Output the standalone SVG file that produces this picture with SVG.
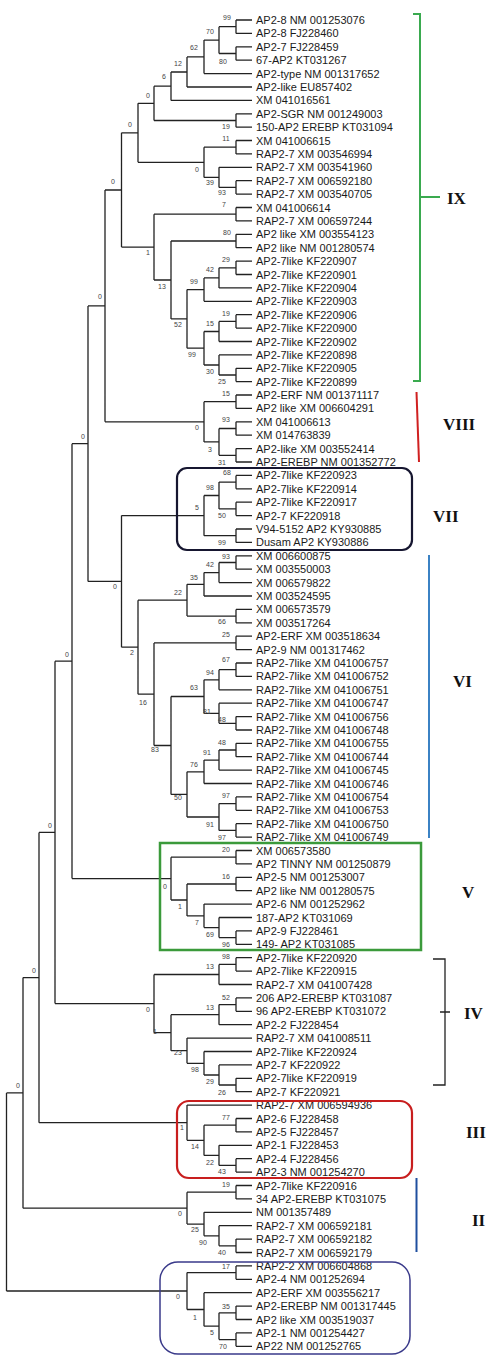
<svg xmlns="http://www.w3.org/2000/svg" width="489" height="1355" viewBox="0 0 489 1355">
<style>
.l{font-family:"Liberation Sans",Arial,sans-serif;font-size:11px;fill:#1a1a1a}
.b{font-family:"Liberation Sans",Arial,sans-serif;font-size:7px;fill:#444;text-anchor:middle}
.r{font-family:"Liberation Serif","Times New Roman",serif;font-size:17px;font-weight:bold;fill:#111}
.t{fill:none;stroke:#222;stroke-width:1.3}
</style>
<rect width="489" height="1355" fill="#fff"/>
<g id="connectors" class="t">
<path d="M236,20V33.4M236,20H252M236,33.4H252M236,46.8V60.2M236,46.8H252M236,60.2H252M219,26.7V53.5M219,26.7H236M219,53.5H236M204,40.1V73.6M204,40.1H219M204,73.6H252M187,56.9V87M187,56.9H204M187,87H252M171,72V100.4M171,72H187M171,100.4H252M236,113.8V127.2M236,113.8H252M236,127.2H252M154,86.2V120.5M154,86.2H171M154,120.5H236M236,140.5V153.9M236,140.5H252M236,153.9H252M236,180.7V194.1M236,180.7H252M236,194.1H252M219,167.3V187.4M219,167.3H252M219,187.4H236M204,147.2V177.4M204,147.2H236M204,177.4H219M138,103.3V162.3M138,103.3H154M138,162.3H204M236,207.5V220.9M236,207.5H252M236,220.9H252M236,234.3V247.7M236,234.3H252M236,247.7H252M236,261.1V274.5M236,261.1H252M236,274.5H252M219,267.8V287.9M219,267.8H236M219,287.9H252M204,277.9V301.3M204,277.9H219M204,301.3H252M236,314.7V328.1M236,314.7H252M236,328.1H252M219,321.4V341.5M219,321.4H236M219,341.5H252M236,368.3V381.6M236,368.3H252M236,381.6H252M219,354.9V375M219,354.9H252M219,375H236M204,331.5V365M204,331.5H219M204,365H219M187,289.6V348.2M187,289.6H204M187,348.2H204M171,241V318.9M171,241H236M171,318.9H187M154,214.2V280M154,214.2H236M154,280H171M121.5,132.8V247.1M121.5,132.8H138M121.5,247.1H154"/>
<path d="M236,395V408.4M236,395H252M236,408.4H252M236,421.8V435.2M236,421.8H252M236,435.2H252M236,448.6V462M236,448.6H252M236,462H252M219,428.5V455.3M219,428.5H236M219,455.3H236M204,401.7V441.9M204,401.7H236M204,441.9H219M105,190V421.8M105,190H121.5M105,421.8H204"/>
<path d="M236,475.4V488.8M236,475.4H252M236,488.8H252M236,502.2V515.6M236,502.2H252M236,515.6H252M219,482.1V508.9M219,482.1H236M219,508.9H236M236,529V542.4M236,529H252M236,542.4H252M204,495.5V535.7M204,495.5H219M204,535.7H236"/>
<path d="M236,555.8V569.2M236,555.8H252M236,569.2H252M219,562.5V582.6M219,562.5H236M219,582.6H252M204,572.6V596M204,572.6H219M204,596H252M236,609.4V622.8M236,609.4H252M236,622.8H252M187,584.3V616.1M187,584.3H204M187,616.1H236M236,636.2V649.6M236,636.2H252M236,649.6H252M236,663V676.4M236,663H252M236,676.4H252M219,669.7V689.8M219,669.7H236M219,689.8H252M236,716.6V730M236,716.6H252M236,730H252M219,703.2V723.3M219,703.2H252M219,723.3H236M204,679.8V713.3M204,679.8H219M204,713.3H219M236,743.3V756.7M236,743.3H252M236,756.7H252M219,750V770.1M219,750H236M219,770.1H252M204,760.1V783.5M204,760.1H219M204,783.5H252M236,796.9V810.3M236,796.9H252M236,810.3H252M236,823.7V837.1M236,823.7H252M236,837.1H252M219,803.6V830.4M219,803.6H236M219,830.4H236M187,771.8V817M187,771.8H204M187,817H219M171,696.5V794.4M171,696.5H204M171,794.4H187M154,642.9V745.5M154,642.9H236M154,745.5H171M138,600.2V694.2M138,600.2H187M138,694.2H154M121.5,515.6V647.2M121.5,515.6H204M121.5,647.2H138M88,305.9V581.4M88,305.9H105M88,581.4H121.5"/>
<path d="M236,850.5V863.9M236,850.5H252M236,863.9H252M236,877.3V890.7M236,877.3H252M236,890.7H252M236,930.9V944.3M236,930.9H252M236,944.3H252M219,917.5V937.6M219,917.5H252M219,937.6H236M204,904.1V927.6M204,904.1H252M204,927.6H219M187,884V915.9M187,884H236M187,915.9H204M171,857.2V900M171,857.2H236M171,900H187M72,443.7V878.6M72,443.7H88M72,878.6H171"/>
<path d="M236,957.7V971.1M236,957.7H252M236,971.1H252M219,964.4V984.5M219,964.4H236M219,984.5H252M236,997.9V1011.3M236,997.9H252M236,1011.3H252M219,1004.6V1024.7M219,1004.6H236M219,1024.7H252M236,1078.3V1091.7M236,1078.3H252M236,1091.7H252M219,1064.9V1085M219,1064.9H252M219,1085H236M204,1051.5V1075M204,1051.5H252M204,1075H219M187,1038.1V1063.3M187,1038.1H252M187,1063.3H204M171,1014.7V1050.7M171,1014.7H219M171,1050.7H187M154,974.5V1032.7M154,974.5H219M154,1032.7H171M55,661.2V1003.6M55,661.2H72M55,1003.6H154"/>
<path d="M236,1118.5V1131.9M236,1118.5H252M236,1131.9H252M236,1158.7V1172.1M236,1158.7H252M236,1172.1H252M219,1145.3V1165.4M219,1145.3H252M219,1165.4H236M204,1125.2V1155.4M204,1125.2H236M204,1155.4H219M187,1105.1V1140.3M187,1105.1H252M187,1140.3H204M39,832.4V1122.7M39,832.4H55M39,1122.7H187"/>
<path d="M236,1185.5V1198.9M236,1185.5H252M236,1198.9H252M236,1239.1V1252.5M236,1239.1H252M236,1252.5H252M219,1225.7V1245.8M219,1225.7H252M219,1245.8H236M204,1212.3V1235.8M204,1212.3H252M204,1235.8H219M187,1192.2V1224.1M187,1192.2H236M187,1224.1H204M23,977.6V1208.2M23,977.6H39M23,1208.2H187"/>
<path d="M236,1265.9V1279.3M236,1265.9H252M236,1279.3H252M236,1306.1V1319.5M236,1306.1H252M236,1319.5H252M236,1332.9V1346.3M236,1332.9H252M236,1346.3H252M219,1312.8V1339.6M219,1312.8H236M219,1339.6H236M204,1292.7V1326.2M204,1292.7H252M204,1326.2H219M187,1272.6V1309.5M187,1272.6H236M187,1309.5H204M6.5,1092.9V1291M6.5,1092.9H23M6.5,1291H187"/>
</g>
<g id="bootstrap">
<text class="b" x="227" y="20">99</text><text class="b" x="223" y="64">80</text><text class="b" x="210" y="34">70</text><text class="b" x="194" y="50">62</text><text class="b" x="178" y="66">12</text><text class="b" x="164" y="79">6</text><text class="b" x="148" y="98">0</text><text class="b" x="226" y="129">19</text><text class="b" x="130" y="127">0</text><text class="b" x="226" y="141">11</text><text class="b" x="197" y="172">0</text><text class="b" x="210" y="185">39</text><text class="b" x="222" y="195">93</text><text class="b" x="224" y="207">7</text><text class="b" x="113" y="184">0</text><text class="b" x="227" y="235">80</text><text class="b" x="148" y="255">1</text><text class="b" x="226" y="262">29</text><text class="b" x="210" y="272">42</text><text class="b" x="194" y="284">99</text><text class="b" x="162" y="289">13</text><text class="b" x="226" y="316">19</text><text class="b" x="210" y="326">15</text><text class="b" x="178" y="327">52</text><text class="b" x="192" y="357">99</text><text class="b" x="210" y="374">30</text><text class="b" x="222" y="384">25</text><text class="b" x="100" y="299">0</text>
<text class="b" x="226" y="396">15</text><text class="b" x="226" y="422">93</text><text class="b" x="197" y="430">0</text><text class="b" x="210" y="452">3</text><text class="b" x="222" y="465">31</text>
<text class="b" x="227" y="475">68</text><text class="b" x="210" y="490">98</text><text class="b" x="197" y="510">5</text><text class="b" x="222" y="518">50</text><text class="b" x="222" y="545">99</text>
<text class="b" x="226" y="559">93</text><text class="b" x="210" y="567">42</text><text class="b" x="194" y="580">35</text><text class="b" x="178" y="595">22</text><text class="b" x="115" y="589">0</text><text class="b" x="222" y="624">66</text><text class="b" x="226" y="637">25</text><text class="b" x="132" y="655">2</text><text class="b" x="226" y="662">67</text><text class="b" x="210" y="675">94</text><text class="b" x="194" y="690">63</text><text class="b" x="143" y="705">16</text><text class="b" x="207" y="714">81</text><text class="b" x="222" y="722">48</text><text class="b" x="222" y="745">48</text><text class="b" x="155" y="752">83</text><text class="b" x="207" y="755">91</text><text class="b" x="194" y="767">76</text><text class="b" x="226" y="798">97</text><text class="b" x="178" y="800">50</text><text class="b" x="210" y="827">91</text><text class="b" x="222" y="840">97</text>
<text class="b" x="83" y="439">0</text><text class="b" x="67" y="657">0</text><text class="b" x="50" y="828">0</text><text class="b" x="34" y="973">0</text><text class="b" x="18" y="1088">0</text>
<text class="b" x="226" y="852">20</text><text class="b" x="226" y="879">16</text><text class="b" x="165" y="889">0</text><text class="b" x="180" y="909">1</text><text class="b" x="197" y="925">7</text><text class="b" x="210" y="937">69</text><text class="b" x="226" y="947">96</text>
<text class="b" x="226" y="959">98</text><text class="b" x="210" y="969">13</text><text class="b" x="226" y="1000">52</text><text class="b" x="210" y="1010">13</text><text class="b" x="148" y="1012">0</text><text class="b" x="155" y="1034">1</text><text class="b" x="178" y="1055">23</text><text class="b" x="195" y="1072">98</text><text class="b" x="210" y="1084">29</text><text class="b" x="222" y="1095">26</text>
<text class="b" x="182" y="1130">1</text><text class="b" x="226" y="1120">77</text><text class="b" x="195" y="1149">14</text><text class="b" x="210" y="1165">22</text><text class="b" x="222" y="1174">43</text>
<text class="b" x="226" y="1187">19</text><text class="b" x="180" y="1216">0</text><text class="b" x="195" y="1232">25</text><text class="b" x="203" y="1245">90</text><text class="b" x="222" y="1255">40</text>
<text class="b" x="226" y="1269">17</text><text class="b" x="178" y="1299">0</text><text class="b" x="226" y="1309">35</text><text class="b" x="195" y="1320">1</text><text class="b" x="212" y="1335">5</text><text class="b" x="223" y="1349">70</text>
</g>
<g id="clade-IX">
<text class="l" id="n1" x="256" y="24">AP2-8 NM 001253076</text>
<text class="l" id="n2" x="256" y="37.4">AP2-8 FJ228460</text>
<text class="l" id="n3" x="256" y="50.8">AP2-7 FJ228459</text>
<text class="l" id="n4" x="256" y="64.2">67-AP2 KT031267</text>
<text class="l" id="n5" x="256" y="77.6">AP2-type NM 001317652</text>
<text class="l" id="n6" x="256" y="91">AP2-like EU857402</text>
<text class="l" id="n7" x="256" y="104.4">XM 041016561</text>
<text class="l" id="n8" x="256" y="117.8">AP2-SGR NM 001249003</text>
<text class="l" id="n9" x="256" y="131.2">150-AP2 EREBP KT031094</text>
<text class="l" id="n10" x="256" y="144.5">XM 041006615</text>
<text class="l" id="n11" x="256" y="157.9">RAP2-7 XM 003546994</text>
<text class="l" id="n12" x="256" y="171.3">RAP2-7 XM 003541960</text>
<text class="l" id="n13" x="256" y="184.7">RAP2-7 XM 006592180</text>
<text class="l" id="n14" x="256" y="198.1">RAP2-7 XM 003540705</text>
<text class="l" id="n15" x="256" y="211.5">XM 041006614</text>
<text class="l" id="n16" x="256" y="224.9">RAP2-7 XM 006597244</text>
<text class="l" id="n17" x="256" y="238.3">AP2 like XM 003554123</text>
<text class="l" id="n18" x="256" y="251.7">AP2 like NM 001280574</text>
<text class="l" id="n19" x="256" y="265.1">AP2-7like KF220907</text>
<text class="l" id="n20" x="256" y="278.5">AP2-7like KF220901</text>
<text class="l" id="n21" x="256" y="291.9">AP2-7like KF220904</text>
<text class="l" id="n22" x="256" y="305.3">AP2-7like KF220903</text>
<text class="l" id="n23" x="256" y="318.7">AP2-7like KF220906</text>
<text class="l" id="n24" x="256" y="332.1">AP2-7like KF220900</text>
<text class="l" id="n25" x="256" y="345.5">AP2-7like KF220902</text>
<text class="l" id="n26" x="256" y="358.9">AP2-7like KF220898</text>
<text class="l" id="n27" x="256" y="372.3">AP2-7like KF220905</text>
<text class="l" id="n28" x="256" y="385.6">AP2-7like KF220899</text>
</g>
<g id="clade-VIII">
<text class="l" id="n29" x="256" y="399">AP2-ERF NM 001371117</text>
<text class="l" id="n30" x="256" y="412.4">AP2 like XM 006604291</text>
<text class="l" id="n31" x="256" y="425.8">XM 041006613</text>
<text class="l" id="n32" x="256" y="439.2">XM 014763839</text>
<text class="l" id="n33" x="256" y="452.6">AP2-like XM 003552414</text>
<text class="l" id="n34" x="256" y="466">AP2-EREBP NM 001352772</text>
</g>
<g id="clade-VII">
<text class="l" id="n35" x="256" y="479.4">AP2-7like KF220923</text>
<text class="l" id="n36" x="256" y="492.8">AP2-7like KF220914</text>
<text class="l" id="n37" x="256" y="506.2">AP2-7like KF220917</text>
<text class="l" id="n38" x="256" y="519.6">AP2-7 KF220918</text>
<text class="l" id="n39" x="256" y="533">V94-5152 AP2 KY930885</text>
<text class="l" id="n40" x="256" y="546.4">Dusam AP2 KY930886</text>
</g>
<g id="clade-VI">
<text class="l" id="n41" x="256" y="559.8">XM 006600875</text>
<text class="l" id="n42" x="256" y="573.2">XM 003550003</text>
<text class="l" id="n43" x="256" y="586.6">XM 006579822</text>
<text class="l" id="n44" x="256" y="600">XM 003524595</text>
<text class="l" id="n45" x="256" y="613.4">XM 006573579</text>
<text class="l" id="n46" x="256" y="626.8">XM 003517264</text>
<text class="l" id="n47" x="256" y="640.2">AP2-ERF XM 003518634</text>
<text class="l" id="n48" x="256" y="653.6">AP2-9 NM 001317462</text>
<text class="l" id="n49" x="256" y="667">RAP2-7like XM 041006757</text>
<text class="l" id="n50" x="256" y="680.4">RAP2-7like XM 041006752</text>
<text class="l" id="n51" x="256" y="693.8">RAP2-7like XM 041006751</text>
<text class="l" id="n52" x="256" y="707.2">RAP2-7like XM 041006747</text>
<text class="l" id="n53" x="256" y="720.6">RAP2-7like XM 041006756</text>
<text class="l" id="n54" x="256" y="734">RAP2-7like XM 041006748</text>
<text class="l" id="n55" x="256" y="747.3">RAP2-7like XM 041006755</text>
<text class="l" id="n56" x="256" y="760.7">RAP2-7like XM 041006744</text>
<text class="l" id="n57" x="256" y="774.1">RAP2-7like XM 041006745</text>
<text class="l" id="n58" x="256" y="787.5">RAP2-7like XM 041006746</text>
<text class="l" id="n59" x="256" y="800.9">RAP2-7like XM 041006754</text>
<text class="l" id="n60" x="256" y="814.3">RAP2-7like XM 041006753</text>
<text class="l" id="n61" x="256" y="827.7">RAP2-7like XM 041006750</text>
<text class="l" id="n62" x="256" y="841.1">RAP2-7like XM 041006749</text>
</g>
<g id="clade-V">
<text class="l" id="n63" x="256" y="854.5">XM 006573580</text>
<text class="l" id="n64" x="256" y="867.9">AP2 TINNY NM 001250879</text>
<text class="l" id="n65" x="256" y="881.3">AP2-5 NM 001253007</text>
<text class="l" id="n66" x="256" y="894.7">AP2 like NM 001280575</text>
<text class="l" id="n67" x="256" y="908.1">AP2-6 NM 001252962</text>
<text class="l" id="n68" x="256" y="921.5">187-AP2 KT031069</text>
<text class="l" id="n69" x="256" y="934.9">AP2-9 FJ228461</text>
<text class="l" id="n70" x="256" y="948.3">149- AP2 KT031085</text>
</g>
<g id="clade-IV">
<text class="l" id="n71" x="256" y="961.7">AP2-7like KF220920</text>
<text class="l" id="n72" x="256" y="975.1">AP2-7like KF220915</text>
<text class="l" id="n73" x="256" y="988.5">RAP2-7 XM 041007428</text>
<text class="l" id="n74" x="256" y="1001.9">206 AP2-EREBP KT031087</text>
<text class="l" id="n75" x="256" y="1015.3">96 AP2-EREBP KT031072</text>
<text class="l" id="n76" x="256" y="1028.7">AP2-2 FJ228454</text>
<text class="l" id="n77" x="256" y="1042.1">RAP2-7 XM 041008511</text>
<text class="l" id="n78" x="256" y="1055.5">AP2-7like KF220924</text>
<text class="l" id="n79" x="256" y="1068.9">AP2-7 KF220922</text>
<text class="l" id="n80" x="256" y="1082.3">AP2-7like KF220919</text>
<text class="l" id="n81" x="256" y="1095.7">AP2-7 KF220921</text>
</g>
<g id="clade-III">
<text class="l" id="n82" x="256" y="1109.1">RAP2-7 XM 006594936</text>
<text class="l" id="n83" x="256" y="1122.5">AP2-6 FJ228458</text>
<text class="l" id="n84" x="256" y="1135.9">AP2-5 FJ228457</text>
<text class="l" id="n85" x="256" y="1149.3">AP2-1 FJ228453</text>
<text class="l" id="n86" x="256" y="1162.7">AP2-4 FJ228456</text>
<text class="l" id="n87" x="256" y="1176.1">AP2-3 NM 001254270</text>
</g>
<g id="clade-II">
<text class="l" id="n88" x="256" y="1189.5">AP2-7like KF220916</text>
<text class="l" id="n89" x="256" y="1202.9">34 AP2-EREBP KT031075</text>
<text class="l" id="n90" x="256" y="1216.3">NM 001357489</text>
<text class="l" id="n91" x="256" y="1229.7">RAP2-7 XM 006592181</text>
<text class="l" id="n92" x="256" y="1243.1">RAP2-7 XM 006592182</text>
<text class="l" id="n93" x="256" y="1256.5">RAP2-7 XM 006592179</text>
</g>
<g id="clade-I">
<text class="l" id="n94" x="256" y="1269.9">RAP2-2 XM 006604868</text>
<text class="l" id="n95" x="256" y="1283.3">AP2-4 NM 001252694</text>
<text class="l" id="n96" x="256" y="1296.7">AP2-ERF XM 003556217</text>
<text class="l" id="n97" x="256" y="1310.1">AP2-EREBP NM 001317445</text>
<text class="l" id="n98" x="256" y="1323.5">AP2 like XM 003519037</text>
<text class="l" id="n99" x="256" y="1336.9">AP2-1 NM 001254427</text>
<text class="l" id="n100" x="256" y="1350.3">AP22 NM 001252765</text>
</g>
<g id="group-IX"><path d="M413,14H420V381H413M420,197H440" fill="none" stroke="#3aaa4f" stroke-width="2"/><text class="r" x="447" y="204">IX</text></g>
<g id="group-VIII"><path d="M416.5,392L419,462" fill="none" stroke="#d02020" stroke-width="2"/><text class="r" x="443" y="430">VIII</text></g>
<g id="group-VII"><rect x="177" y="468" width="235" height="82" rx="10" fill="none" stroke="#161630" stroke-width="2.2"/><text class="r" x="433" y="522">VII</text></g>
<g id="group-VI"><path d="M429,555V838" fill="none" stroke="#3b82c4" stroke-width="2"/><text class="r" x="453" y="687">VI</text></g>
<g id="group-V"><rect x="160" y="843" width="261" height="107" fill="none" stroke="#3b9a3b" stroke-width="2.5"/><text class="r" x="462" y="898">V</text></g>
<g id="group-IV"><path d="M433,959H445V1085H433M440,1012H450" fill="none" stroke="#222" stroke-width="1.3"/><text class="r" x="464" y="1019">IV</text></g>
<g id="group-III"><rect x="177" y="1101" width="235" height="77" rx="12" fill="none" stroke="#c81e1e" stroke-width="2.2"/><text class="r" x="466" y="1138">III</text></g>
<g id="group-II"><path d="M416.5,1178V1252" fill="none" stroke="#1f4f9f" stroke-width="2"/><text class="r" x="472" y="1226">II</text></g>
<g id="group-I"><rect x="160" y="1262" width="250" height="92" rx="18" fill="none" stroke="#3a3a8a" stroke-width="1.5"/></g>
</svg>
